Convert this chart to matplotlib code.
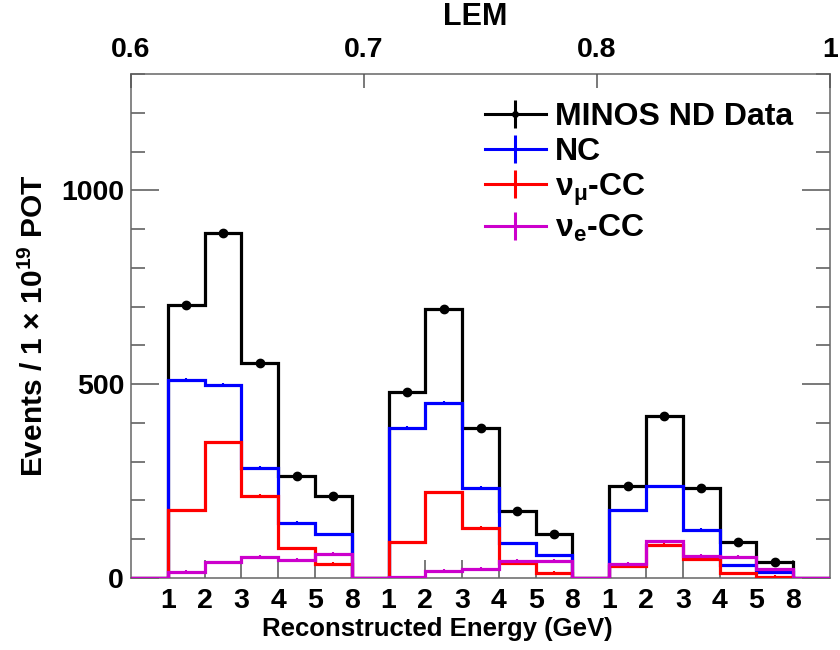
import numpy as np
import matplotlib
matplotlib.use("Agg")
import matplotlib.pyplot as plt
from matplotlib.lines import Line2D
from matplotlib.legend_handler import HandlerTuple
from matplotlib.ticker import MultipleLocator, FixedLocator

plt.rcParams['font.family'] = ['Liberation Sans', 'DejaVu Sans']
plt.rcParams['font.weight'] = 'bold'
plt.rcParams['mathtext.fontset'] = 'custom'
plt.rcParams['mathtext.rm'] = 'Liberation Sans:bold'
plt.rcParams['mathtext.bf'] = 'Liberation Sans:bold'

# Reconstructed-energy bin edge labels (GeV), repeated in each LEM slice
energy_labels = ["1", "2", "3", "4", "5", "8"]
lem_labels = ["0.6", "0.7", "0.8", "1"]

# Events per 1e19 POT, one list per LEM slice (0.6-0.7, 0.7-0.8, 0.8-1.0)
data_lem = [[705, 891, 554, 263, 211],
            [480, 693, 386, 173, 113],
            [238, 418, 231, 94, 40]]
nc_lem = [[512, 499, 285, 142, 113],
          [387, 452, 233, 89, 59],
          [175, 237, 124, 33, 16]]
numu_cc_lem = [[175, 350, 212, 77, 36],
               [92, 221, 130, 38, 14],
               [30, 85, 48, 12, 3]]
nue_cc_lem = [[16, 40, 55, 47, 63],
              [2, 19, 24, 45, 44],
              [37, 95, 58, 55, 22]]


def layout(slices):
    """Concatenate slices into one histogram with an empty bin between them."""
    vals = [0]
    for s in slices:
        vals += list(s) + [0]
    return np.array(vals, dtype=float)


data = layout(data_lem)
nc = layout(nc_lem)
numu = layout(numu_cc_lem)
nue = layout(nue_cc_lem)
nbins = len(data)
edges = np.arange(nbins + 1)
centers = edges[:-1] + 0.5
filled = np.array([v > 0 for v in data])

BLUE, RED, MAGENTA = '#0000ff', '#ff0000', '#cc00cc'

fig = plt.figure(figsize=(8.4, 6.5), dpi=100)
ax = fig.add_axes([131 / 840, 1 - 578 / 650, (830 - 131) / 840, (578 - 74) / 650])

lw = 2.3
ax.stairs(data, edges, color='black', lw=lw, zorder=2)
ax.stairs(nc, edges, color=BLUE, lw=lw, zorder=3)
ax.stairs(numu, edges, color=RED, lw=lw, zorder=4)
ax.stairs(nue, edges, color=MAGENTA, lw=lw, zorder=5)

for vals, col, z in [(nc, BLUE, 3), (numu, RED, 4), (nue, MAGENTA, 5)]:
    ax.errorbar(centers[filled], vals[filled], yerr=4, fmt='none', ecolor=col,
                elinewidth=1.5, zorder=z)
ax.errorbar(centers[filled], data[filled], yerr=5, fmt='o', color='black',
            ms=6, elinewidth=1.5, zorder=6)

ax.set_xlim(0, nbins)
ax.set_ylim(0, 1300)

# y axis
ax.yaxis.set_major_locator(FixedLocator([0, 500, 1000]))
ax.yaxis.set_minor_locator(MultipleLocator(100))
ax.tick_params(axis='y', which='major', direction='in', length=20, width=1.1,
               color='#555555', right=True, labelsize=20.5, pad=5)
ax.tick_params(axis='y', which='minor', direction='in', length=10, width=1.1,
               color='#555555', right=True)

# bottom axis: energy bin edges inside each LEM slice
xt = [i for i in range(1, nbins) if data[i - 1] > 0 or data[i] > 0]
ax.set_xticks(xt)
ax.set_xticklabels(energy_labels * 3)
ax.tick_params(axis='x', which='major', direction='in', length=13, width=1.1,
               color='#555555', labelsize=20.5, pad=7)
ax.set_xlabel("Reconstructed Energy (GeV)", fontsize=18.5, fontweight='bold')
ax.xaxis.set_label_coords((437 - 131) / 699, -(629 - 578) / 504)
ax.xaxis.label.set_verticalalignment('center')
ax.set_ylabel("Events / 1 × 10$^{\\mathregular{19}}$ POT", fontsize=21.5,
              fontweight='bold')
ax.yaxis.set_label_coords(-(131 - 34) / 699, (578 - 326) / 504)
ax.yaxis.label.set_verticalalignment('center')

for sp in ax.spines.values():
    sp.set_color('#666666')
    sp.set_linewidth(1.1)

# top axis: LEM cut boundaries
top = ax.twiny()
top.set_xlim(0, nbins)
top.set_xticks(np.linspace(0, nbins, 4))
top.set_xticklabels(lem_labels)
top.tick_params(axis='x', direction='in', length=10, width=1.1, color='#555555',
                labelsize=20.5, pad=8)
top.set_xlabel("LEM", fontsize=22, fontweight='bold')
top.xaxis.set_label_coords((475 - 131) / 699, 1 + (74 - 17) / 504)
top.xaxis.label.set_verticalalignment('center')
for sp in top.spines.values():
    sp.set_visible(False)


def entry(col, dot=False):
    parts = [Line2D([], [], color=col, lw=2.2),
             Line2D([], [], color=col, marker='|', ms=20, mew=2.2, ls='none')]
    if dot:
        parts.append(Line2D([], [], color=col, marker='o', ms=4, ls='none'))
    return tuple(parts)


handles = [entry('black', True), entry(BLUE), entry(RED), entry(MAGENTA)]
labels = ["MINOS ND Data", "NC", "ν$_{\\mathregular{μ}}$-CC", "ν$_{\\mathregular{e}}$-CC"]
fig.legend(handles, labels, handler_map={tuple: HandlerTuple(ndivide=1)},
           loc='upper left', bbox_to_anchor=(469 / 840, 1 - 86 / 650),
           frameon=False, fontsize=23, handlelength=1.9, handletextpad=0.3,
           labelspacing=0.15, borderpad=0)

fig.savefig("out.png", dpi=100)
